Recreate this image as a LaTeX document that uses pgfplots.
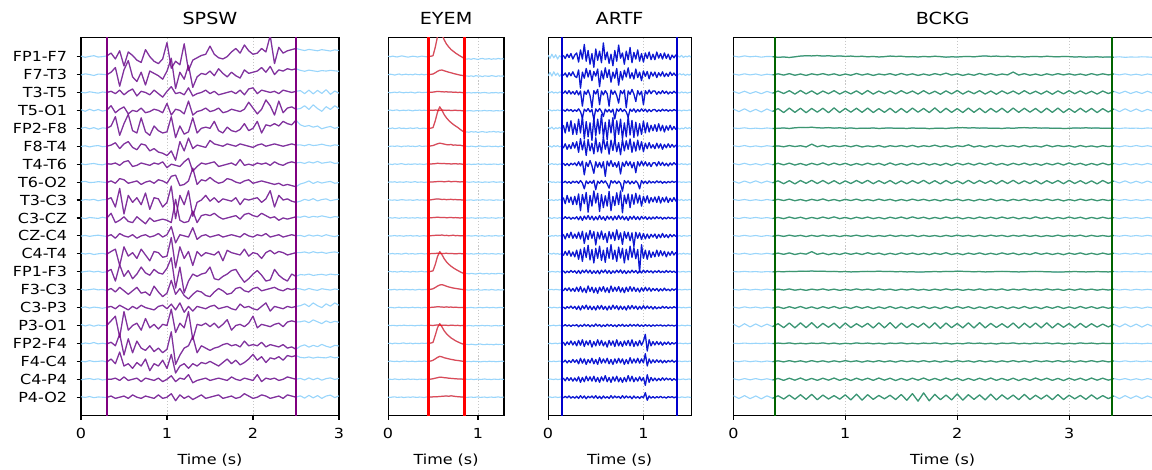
\documentclass[border=0pt]{standalone}
\usepackage{fontspec}
\setmainfont{DejaVu Sans}[FakeStretch=1.15]
\usepackage{pgfplots}
\usepackage{pgfplotstable}
\pgfplotsset{compat=1.18}

\definecolor{bgblue}{HTML}{87CEFA}
\definecolor{spswc}{HTML}{800080}
\definecolor{eyemc}{HTML}{FF0000}
\definecolor{artfc}{HTML}{0000CD}
\definecolor{bckgc}{HTML}{2E8B57}
\definecolor{bckgw}{HTML}{006400}
\newcommand\ticksize{\fontsize{10}{12}\selectfont}
\newcommand\titlesize{\fontsize{12}{14}\selectfont}

% channel rows, values in 1/100 of the channel spacing (positive = up)
\pgfplotstableread[header=true]{
ch 0 0.05 0.1 0.15 0.2 0.25 0.3 0.35 0.4 0.45 0.5 0.55 0.6 0.65 0.7 0.75 0.8 0.85 0.9 0.95 1 1.05 1.1 1.15 1.2 1.25 1.3 1.35 1.4 1.45 1.5 1.55 1.6 1.65 1.7 1.75 1.8 1.85 1.9 1.95 2 2.05 2.1 2.15 2.2 2.25 2.3 2.35 2.4 2.45 2.5 2.55 2.6 2.65 2.7 2.75 2.8 2.85 2.9 2.95 3
c1 2 -3 1 4 -2 0 3 15 -10 25 -40 20 5 -15 -25 30 0 -20 -30 -10 60 -50 -20 -35 55 -60 -15 -5 5 10 45 10 -5 -10 0 20 35 15 50 25 10 15 35 20 90 -30 40 15 25 30 35 30 26 31 28 25 30 27 24 29 26
c2 -2 3 0 -4 2 1 -1 10 30 -50 20 60 -10 -30 10 -45 15 5 -5 -20 15 70 -60 10 -20 40 -55 -10 5 0 15 -5 25 5 -10 10 -5 -15 20 5 10 15 30 10 35 0 20 15 25 20 25 18 14 19 16 13 17 15 18 16 14
c3 1 -2 3 0 -3 2 0 5 -5 10 -10 5 15 -15 5 0 -10 10 -5 -20 5 25 -5 0 -10 20 -15 -5 0 10 -5 5 -10 -5 0 5 -5 10 -10 15 20 -5 10 5 0 5 -5 10 5 0 5 8 -5 10 -6 9 -4 12 -8 6 -3
c4 3 -4 5 -2 4 -3 1 20 -10 5 15 -15 0 -5 10 -10 -5 5 0 -10 30 -20 5 0 -15 40 -20 -5 0 10 -5 0 10 -10 -5 5 0 -5 5 35 10 -15 5 45 20 -20 40 -10 10 15 5 8 20 4 24 8 -4 16 4 20 8
c5 0 4 -2 3 -4 2 0 10 50 -30 20 60 -10 -20 45 -15 -30 10 -10 -20 -15 50 -40 10 -25 -15 45 -20 0 5 0 30 -10 -20 5 -10 -15 -5 20 -10 0 30 -20 15 10 20 10 30 20 15 35 15 8 12 5 10 -2 4 8 0 5
c6 -1 2 -3 1 3 -2 0 5 15 -10 10 20 -5 -15 10 5 -20 -10 -25 -30 -40 -20 -60 20 -20 35 -10 5 0 -5 25 10 5 0 10 5 0 10 5 0 -5 5 10 0 5 10 5 0 5 10 5 6 2 8 3 5 9 4 1 6 3
c7 2 -2 1 3 -1 -3 2 0 5 -5 10 15 -10 -5 5 0 -5 5 0 10 -15 0 -5 -10 10 25 -30 -10 5 0 5 10 -10 -5 0 5 -5 20 -5 0 -5 5 0 5 -5 10 0 -5 5 10 5 8 3 10 5 12 4 7 10 3 6
c8 1 3 -2 -1 2 0 -2 5 -5 15 10 -5 0 5 -10 0 5 -5 10 5 -5 25 30 -15 -10 5 60 -10 10 5 20 5 -5 0 15 10 0 -5 5 10 -5 0 5 0 -5 -10 -5 -15 -10 -15 -20 -8 -3 5 -6 2 -4 0 3 -5 -2
c9 -2 2 0 3 -3 1 2 10 -30 50 -60 20 -10 10 -20 30 -40 10 5 -30 -10 60 -80 20 -20 40 -70 -10 0 20 -5 10 -10 5 0 -5 10 -20 5 0 5 10 -10 5 40 -30 20 0 5 -5 -10 -5 3 -2 6 -4 2 5 -3 1 4
c10 1 -3 2 0 -2 3 -1 20 -20 -10 5 -15 -20 5 -10 -25 0 -15 -10 -5 -10 -20 80 -10 -20 -15 30 -20 10 15 10 20 5 -5 0 5 10 -5 15 20 10 5 20 10 0 5 -10 0 -5 0 5 3 8 2 7 4 9 5 1 6 3
c11 -1 2 -2 1 3 0 -2 5 -10 10 0 -5 5 -10 0 5 -5 0 10 -5 5 40 -30 5 0 -5 35 -15 0 5 -5 0 5 -5 0 5 0 -5 10 0 -5 5 0 10 -5 0 5 -5 0 5 0 2 -3 4 -1 3 -2 5 0 -3 2
c12 3 -1 2 -3 0 2 -2 10 20 -50 30 -10 5 -20 20 -5 -30 10 5 -15 -10 70 -60 30 -20 10 -50 10 -10 5 0 -5 10 -30 15 5 0 -5 20 -10 5 0 -20 5 15 0 10 5 -5 0 5 5 8 3 9 4 7 2 6 8 4
c13 -2 1 3 -1 2 -3 0 10 -40 30 -20 5 -30 -10 20 -5 -15 10 -5 -10 15 60 -70 20 -90 -40 -10 -20 -10 -5 20 -30 -35 -20 -10 5 10 -20 -45 -30 -10 5 -15 -40 -35 10 -15 -30 -40 -10 -20 -12 -14 -10 -16 -13 -11 -15 -10 -13 -12
c14 2 -2 0 3 -1 1 -3 5 -10 10 -5 -20 -5 10 -15 -10 -25 15 -10 -30 -15 40 -20 5 -25 -40 -20 -5 -10 -25 -30 -10 5 -5 -20 -15 5 10 -5 -10 5 10 -5 0 5 10 0 -5 5 0 5 3 -2 5 0 -3 4 1 -2 3 0
c15 -1 3 -2 2 0 -3 1 5 -5 10 0 -10 5 -5 10 0 -5 -10 5 10 -5 15 -10 20 -20 5 -15 5 0 -5 5 10 -5 0 5 -5 -10 15 0 5 -5 -10 5 20 -15 5 0 -5 5 0 5 8 16 4 20 8 0 16 6 20 10
c16 4 -2 3 -3 2 -1 0 20 40 -50 60 -20 0 10 -20 30 -10 5 -15 5 0 70 -30 10 -10 60 -60 5 0 10 -5 10 -10 5 25 -20 0 5 -5 10 40 -10 5 0 -5 5 10 -5 15 20 15 16 20 12 24 16 8 20 12 18 14
c17 -3 2 -1 4 -2 1 -2 5 -10 40 -50 20 -40 10 -20 -30 -10 -35 -20 -40 -25 50 -90 -50 -20 -10 30 -40 -10 -20 -30 -20 -15 -5 0 -10 -5 -15 10 -10 -5 -10 5 -15 -5 -10 -15 -5 -20 -15 -25 -12 -6 -16 -8 -14 -4 -12 -17 -8 -11
c18 1 -2 3 -1 0 2 -3 10 -10 40 -20 -10 -30 -5 -20 10 -40 -10 -20 5 -30 30 -50 -20 -10 -30 -10 -20 -5 -10 0 -10 -20 -5 10 -10 5 -15 -5 10 30 5 20 -5 15 10 20 5 25 20 25 17 15 19 14 18 16 15 20 15 18
c19 -2 1 3 -1 2 -3 0 0 5 -5 10 -5 0 5 -10 5 0 -5 5 -10 0 15 -10 5 0 20 -15 -5 0 5 -5 0 5 0 -5 10 0 -5 5 0 -5 20 -10 5 0 5 -5 0 10 5 0 4 -3 6 -2 5 -4 3 6 -1 4
c20 2 -1 3 -2 1 0 -1 5 -5 0 5 -5 10 0 -5 5 0 -5 10 -5 0 15 -15 10 -5 5 -10 0 10 -5 0 5 10 -5 0 5 -5 0 15 5 -5 0 10 5 -5 0 5 -5 10 5 0 6 -4 8 -3 7 -5 5 9 -2 6
}\spswraw
\pgfplotstabletranspose[colnames from=ch, input colnames to=t]\spsw{\spswraw}

\pgfplotstableread[header=true]{
ch 0 0.025 0.05 0.075 0.1 0.125 0.15 0.175 0.2 0.225 0.25 0.275 0.3 0.325 0.35 0.375 0.4 0.425 0.45 0.475 0.5 0.525 0.55 0.575 0.6 0.625 0.65 0.675 0.7 0.725 0.75 0.775 0.8 0.825 0.85 0.875 0.9 0.925 0.95 0.975 1 1.025 1.05 1.075 1.1 1.125 1.15 1.175 1.2 1.225 1.25 1.275 1.3
c1 2 -1 3 0 -2 1 4 2 -1 -3 0 2 1 -2 0 3 1 -1 0 2 5 52 112 150 123 93 70 54 40 30 20 12 4 -3 -12 -14 -12 -15 -11 -13 -16 -12 -10 -14 -13 -11 -15 -12 -14 -10 -13 -12 -14
c2 -1 2 0 -3 1 3 -2 0 2 -1 1 -2 3 0 -1 2 -2 1 0 1 3 10 18 24 25 21 17 13 10 6 3 0 -3 -5 -7 -8 -10 -7 -11 -6 -9 -8 -12 -7 -9 -10 -6 -8 -11 -7 -9 -8 -10
c3 1 -2 0 2 -1 3 0 -2 1 -1 2 0 -3 1 2 -1 0 1 0 1 2 4 6 5 4 3 4 2 3 1 2 0 1 -1 0 -2 0 -3 -1 -2 1 -3 -1 0 -2 -4 -1 -2 0 -3 -1 -2 0
c4 0 2 -1 1 3 -2 0 1 -1 2 0 -3 1 0 2 -1 1 0 0 1 0 2 1 0 2 1 0 1 -1 0 1 -1 0 -2 -1 -3 -1 -2 -4 -2 -1 -3 -2 0 -3 -1 -2 -4 -1 -2 -3 0 -2
c5 1 -1 2 -2 0 3 -1 1 -2 0 2 -1 1 3 -2 0 1 -1 0 1 4 42 90 120 100 76 58 44 32 22 13 5 -5 -14 -22 -20 -22 -18 -21 -19 -23 -20 -18 -21 -22 -19 -20 -17 -21 -19 -22 -20 -18
c6 -2 0 1 -1 2 0 -3 1 0 2 -1 1 -2 0 3 -1 0 1 0 2 4 9 14 17 15 12 9 8 10 6 7 5 6 3 2 0 -2 1 -1 -3 0 2 -1 -2 0 1 -2 -1 0 -3 1 -1 0
c7 1 0 -2 2 -1 1 3 0 -2 1 -1 0 2 -1 1 0 -2 1 0 1 2 3 5 4 3 4 2 3 1 2 3 1 2 0 1 -1 1 -2 0 -1 2 -1 0 1 -2 0 -1 1 0 -2 1 -1 0
c8 -1 1 0 2 -2 1 0 -1 2 1 -1 0 3 -1 0 1 -2 0 0 1 1 2 3 4 3 2 3 5 2 3 4 2 1 2 0 1 -1 0 2 -1 1 0 -2 1 0 -1 1 2 -1 0 1 -1 0
c9 2 0 -1 1 -2 0 2 1 -1 0 1 -2 0 2 -1 1 0 -1 0 1 3 5 6 5 3 4 2 3 4 2 3 1 2 0 1 -1 0 1 -2 0 1 -1 2 0 -1 1 0 -2 1 0 -1 1 0
c10 0 1 -1 2 0 -2 1 0 2 -1 0 1 -1 2 0 -1 1 0 0 1 2 3 4 3 2 3 1 2 3 1 2 1 0 1 0 0 -1 1 0 -2 1 0 -1 2 0 -1 1 0 -2 1 0 1 -1
c11 1 -1 0 2 -1 1 0 -2 1 0 2 -1 0 1 -2 0 1 -1 0 1 2 3 4 3 5 2 3 1 2 4 1 2 0 1 0 0 1 -1 0 2 -1 0 1 -2 0 1 -1 0 2 -1 0 1 0
c12 -1 0 2 -1 1 0 -2 1 3 -1 0 1 -2 0 1 2 -1 0 0 1 1 2 3 2 1 2 3 1 2 1 0 1 2 0 1 0 -1 1 -2 0 1 0 -1 2 0 -1 1 0 -2 1 -1 0 1
c13 0 2 -1 1 -2 0 3 -1 1 0 -2 2 0 -1 1 3 -1 0 0 2 5 40 85 112 95 72 55 42 31 22 14 7 0 -6 -11 -10 -12 -9 -11 -13 -10 -8 -12 -11 -9 -13 -10 -11 -12 -9 -10 -12 -11
c14 1 -1 0 2 -2 1 0 -1 2 0 -1 1 -2 0 2 -1 0 1 0 2 5 12 20 26 28 24 19 15 12 9 7 5 3 1 0 -1 -3 0 -2 -1 1 -3 -2 0 -1 -2 1 -1 -3 0 -2 -1 0
c15 -1 1 0 -2 1 2 -1 0 1 -1 0 2 -1 1 0 -2 1 0 0 1 2 3 5 4 3 2 4 2 3 1 2 1 0 1 0 -1 0 1 -1 -2 0 1 -1 0 2 -1 0 1 -2 0 1 -1 0
c16 2 -1 1 0 -2 1 -1 2 0 -1 1 0 -2 1 0 2 -1 0 0 1 0 2 3 2 1 2 1 0 2 1 0 1 -1 0 -1 -2 0 -1 -3 0 -2 -1 1 -2 0 -1 -3 -1 0 -2 -1 0 -1
c17 0 1 -2 2 0 -1 1 3 -1 0 2 -2 1 0 -1 2 0 1 0 2 6 45 88 110 92 70 54 42 31 23 15 9 3 -2 -6 -5 -7 -4 -6 -8 -5 -3 -6 -7 -4 -6 -5 -8 -4 -6 -5 -7 -5
c18 -1 2 0 -1 1 -2 0 2 1 -1 0 1 -2 0 1 -1 2 0 0 2 6 14 22 28 25 20 17 14 11 9 6 5 3 1 0 -1 0 -2 1 -1 0 -3 -1 0 -2 1 -1 0 -2 -1 0 1 -1
c19 1 0 -1 2 0 -2 1 -1 0 2 -1 1 0 -2 1 0 -1 1 0 1 3 6 9 12 11 9 8 6 5 4 3 2 2 1 0 0 -1 1 -2 0 1 -1 0 2 -1 0 -2 1 0 -1 1 0 -1
c20 0 -1 1 2 -1 0 1 -2 0 1 -1 2 0 -1 1 0 -2 1 0 1 2 2 3 4 5 6 7 5 8 6 4 3 2 1 0 -1 0 1 -1 0 2 -1 0 1 -2 0 1 -1 0 2 -1 0 1
}\eyemraw
\pgfplotstabletranspose[colnames from=ch, input colnames to=t]\eyem{\eyemraw}

\pgfplotstableread[header=true]{
ch 0 0.02 0.04 0.06 0.08 0.1 0.12 0.14 0.16 0.18 0.2 0.22 0.24 0.26 0.28 0.3 0.32 0.34 0.36 0.38 0.4 0.42 0.44 0.46 0.48 0.5 0.52 0.54 0.56 0.58 0.6 0.62 0.64 0.66 0.68 0.7 0.72 0.74 0.76 0.78 0.8 0.82 0.84 0.86 0.88 0.9 0.92 0.94 0.96 0.98 1 1.02 1.04 1.06 1.08 1.1 1.12 1.14 1.16 1.18 1.2 1.22 1.24 1.26 1.28 1.3 1.32 1.34 1.36 1.38 1.4 1.42 1.44 1.46 1.48 1.5
c1 5 -6 8 -4 6 -8 3 -2 4 -6 8 -3 10 -8 5 12 -18 22 -8 40 -15 20 -25 10 -35 25 -12 18 -20 45 -10 15 -22 8 -30 20 -15 38 -5 12 -25 18 -10 30 -20 14 -8 22 -15 10 -18 12 -6 15 -10 8 -10 15 -5 10 -8 12 -6 8 -10 5 -4 6 3 -2 4 -3 2 -1 3 -2
c2 -4 7 -5 9 -3 5 -6 2 -3 5 -8 6 -4 9 -5 -10 15 -45 8 -12 20 -8 14 -20 10 -5 18 -40 12 -15 22 -10 16 -25 8 -12 20 -35 10 -18 14 -8 22 -12 6 -15 18 -10 8 -20 12 -6 10 -14 8 -5 8 -10 6 -5 9 -7 4 -6 8 -3 5 -4 -2 3 -1 2 -3 1 -2 2
c3 2 -1 3 -2 1 -2 2 0 -3 5 -4 6 -5 3 -6 6 -8 5 -45 4 -6 8 -10 -50 6 -5 10 -40 5 -8 6 -4 -45 8 -6 5 -10 -35 6 -4 8 -50 5 -6 10 -5 -30 6 -8 4 -40 6 -5 8 -4 5 5 -6 3 -4 6 -3 4 -5 2 -3 4 -2 1 -2 2 -1 1 -2 0 1
c4 -1 2 -2 1 -1 2 -1 1 2 -3 4 -2 3 -4 2 -3 5 -4 -25 4 -3 6 -5 3 -30 5 -4 6 -3 -20 4 -5 3 -6 4 -28 5 -3 6 -4 3 -5 -22 4 -3 5 -6 3 -4 5 -3 4 -5 3 -4 2 3 -4 2 -3 4 -2 3 -3 2 -2 3 -1 -1 1 -2 1 0 -1 2 -1
c5 3 -2 4 -3 2 -1 3 -2 10 -15 20 -10 25 -20 15 -20 30 -15 40 -35 22 -28 18 -40 35 -25 30 -18 45 -30 20 -38 28 -15 35 -42 25 -20 30 -35 18 -28 40 -22 26 -30 20 -25 15 -20 24 -15 18 -12 10 -8 12 -10 15 -8 10 -12 8 -6 10 -5 6 -4 2 -3 1 -2 3 -1 2 -1
c6 -2 1 -3 2 -1 2 -2 1 -6 8 -10 5 -8 12 -6 15 -20 25 -12 18 -30 22 -15 10 -25 28 -18 12 -22 30 -10 16 -26 20 -14 25 -18 12 -28 22 -15 18 -10 24 -20 14 -16 20 -12 15 -18 10 -8 12 -6 5 -8 10 -6 8 -10 6 -5 8 -4 6 -3 4 -1 2 -2 1 -1 2 -1 0
c7 1 -1 2 -1 1 -2 1 -1 3 -4 2 -5 3 -2 4 -5 8 -6 10 -35 6 -8 12 -5 -30 8 -10 6 -12 8 -40 10 -6 12 -8 5 -10 8 -32 6 -8 10 -5 8 -12 6 -28 8 -6 10 -5 8 -6 5 -8 4 5 -6 8 -4 6 -5 3 -6 4 -3 5 -2 1 -1 2 -1 1 -2 1 0
c8 -1 2 -1 1 -2 1 -1 1 -2 3 -3 2 -4 3 -2 3 -4 5 -3 -22 4 -5 3 -4 6 -25 3 -4 5 -3 4 -6 -20 5 -3 4 -5 3 -4 -30 5 -3 4 -6 3 -5 4 -3 -22 5 -4 3 -5 4 -3 2 -3 4 -2 3 -4 2 -3 2 -2 3 -1 2 0 1 -1 1 -1 0 1 -1
c9 2 -1 1 -2 1 -1 2 -1 8 -12 15 -8 10 -15 12 -15 20 -35 18 -12 25 -40 15 -20 30 -10 22 -38 18 -25 14 -20 28 -35 12 -18 24 -15 30 -42 16 -12 20 -25 18 -14 22 -10 16 -20 12 -8 14 -10 8 -6 10 -8 12 -10 8 -6 10 -8 6 -5 8 -4 2 -1 2 -2 1 -1 2 -1
c10 -1 1 -2 1 0 -1 1 -1 -3 4 -2 3 -4 2 -3 4 -6 5 -8 6 -4 8 -5 6 -7 4 -6 8 -5 4 -8 6 -4 5 -7 6 -5 8 -4 6 -6 4 -8 5 -4 6 -5 4 -6 5 -3 4 -5 3 -4 3 -3 4 -2 3 -4 2 -3 3 -2 2 -3 1 1 -1 0 1 -1 1 0 -1
c11 1 -2 1 -1 2 -1 1 -1 5 -10 8 -6 12 -8 6 -8 12 -10 15 -25 10 -12 18 -8 14 -30 12 -10 16 -12 8 -22 14 -10 12 -15 20 -12 10 -28 14 -8 12 -16 10 -35 12 -8 10 -12 8 -10 6 -8 5 -4 6 -8 5 -6 8 -5 4 -6 5 -3 4 -2 -1 1 -2 1 0 -1 1 0
c12 -1 1 -1 2 -1 1 -2 1 -6 8 -5 10 -8 6 -10 12 -18 15 -25 20 -12 28 -20 14 -30 18 -15 25 -22 12 -28 20 -15 30 -18 12 -25 22 -14 18 -30 15 -20 25 -12 20 -16 14 -60 30 -15 12 -18 10 -12 6 -10 12 -8 10 -6 8 -10 6 -5 8 -4 5 -2 1 -1 2 -1 1 -1 0
c13 1 -1 1 0 -1 1 -1 0 3 -4 2 -3 4 -2 3 -5 4 -6 5 -3 6 -4 5 -6 3 -5 4 -7 5 -3 6 -5 4 -6 3 -4 5 -3 6 -5 4 -6 3 -4 5 -3 4 -5 3 -4 5 -3 4 -2 3 -4 3 -2 4 -3 2 -3 4 -2 3 -2 2 -3 1 -1 0 1 -1 0 1 -1
c14 -1 0 1 -1 1 0 -1 1 -4 5 -3 6 -5 4 -6 8 -6 10 -8 5 -10 12 -6 8 -10 6 -12 8 -5 10 -8 6 -10 12 -6 8 -5 10 -8 6 -10 8 -6 10 -5 8 -6 5 -8 6 -5 8 -4 6 -5 4 -3 4 -5 3 -4 5 -3 2 -4 3 -2 3 -1 1 -1 0 1 -1 1 0
c15 0 1 -1 1 0 -1 1 -1 2 -4 3 -2 5 -3 4 -6 5 -8 6 -4 8 -6 5 -7 4 -8 6 -5 7 -6 4 -8 5 -6 8 -4 6 -7 5 -6 4 -8 6 -5 7 -4 5 -6 4 -5 6 -4 5 -3 4 -5 3 -4 2 -3 4 -2 3 -3 2 -2 3 -1 0 1 -1 1 -1 0 1 0
c16 1 -1 0 1 -1 0 1 -1 -2 3 -2 2 -3 2 -1 3 -4 2 -3 4 -2 3 -4 2 -3 5 -2 3 -4 2 -3 4 -2 3 -3 2 -4 3 -2 4 -3 2 -3 4 -2 3 -2 4 -3 2 -3 3 -2 2 -3 2 -2 2 -1 2 -2 1 -2 2 -1 1 -2 1 0 -1 1 0 -1 1 0 -1
c17 -1 1 -1 0 1 -1 1 0 4 -6 5 -4 8 -5 6 -8 10 -6 12 -10 8 -5 10 -12 6 -8 12 -6 10 -8 5 -12 10 -6 8 -10 12 -8 6 -10 8 -6 10 -8 12 -10 6 -8 10 -6 8 30 -25 12 -8 6 -5 6 -4 5 -6 4 -3 5 -4 3 -2 3 -1 1 0 -1 1 -1 0 1
c18 1 0 -1 1 -1 0 1 -1 -3 4 -5 3 -4 6 -3 5 -8 10 -6 8 -10 6 -5 10 -8 6 -10 12 -6 8 -5 10 -8 6 -10 8 -6 10 -5 8 -10 6 -8 12 -6 8 -5 10 -6 8 -5 25 -15 8 -6 5 -4 5 -3 4 -5 3 -4 3 -2 4 -3 2 0 1 -1 0 1 -1 1 0
c19 -1 1 0 -1 1 -1 0 1 4 -5 6 -4 5 -6 4 -6 8 -10 6 -8 10 -5 8 -6 10 -8 6 -10 8 -5 12 -8 6 -10 8 -6 10 -8 5 -10 6 -8 12 -6 10 -8 5 -6 8 -5 6 -20 15 -10 6 -5 4 -5 3 -4 5 -3 4 -2 3 -4 2 -3 1 -1 0 1 -1 0 1 -1
c20 0 1 -1 0 1 -1 0 1 -2 3 -2 4 -3 2 -3 3 -4 5 -3 4 -5 3 -2 4 -3 5 -4 3 -5 4 -3 2 -4 5 -3 4 -2 3 -4 5 -3 4 -2 3 -5 4 -3 2 -4 3 -2 15 -10 4 -3 2 -3 2 -2 3 -2 1 -3 2 -1 2 -2 1 0 -1 1 0 -1 1 0 -1
}\artfraw
\pgfplotstabletranspose[colnames from=ch, input colnames to=t]\artf{\artfraw}

\pgfplotstableread[header=true]{
ch 0 0.05 0.1 0.15 0.2 0.25 0.3 0.35 0.4 0.45 0.5 0.55 0.6 0.65 0.7 0.75 0.8 0.85 0.9 0.95 1 1.05 1.1 1.15 1.2 1.25 1.3 1.35 1.4 1.45 1.5 1.55 1.6 1.65 1.7 1.75 1.8 1.85 1.9 1.95 2 2.05 2.1 2.15 2.2 2.25 2.3 2.35 2.4 2.45 2.5 2.55 2.6 2.65 2.7 2.75 2.8 2.85 2.9 2.95 3 3.05 3.1 3.15 3.2 3.25 3.3 3.35 3.4 3.45 3.5 3.55 3.6 3.65 3.7 3.75
c1 3 -2 4 -1 2 -3 1 0 -4 -2 -5 -1 3 5 4 6 3 5 2 4 1 3 0 2 -1 1 -2 0 3 1 2 -1 0 -2 1 -1 2 0 -3 -1 -2 0 1 -1 2 4 1 3 0 2 -1 1 -2 0 1 -1 2 0 -1 1 0 -2 -1 -3 -2 -1 -3 -2 -3 -1 -4 -2 -3 -1 -2 -4
c2 3 -3 4 -2 3 -4 2 -2 4 -3 5 -4 3 -5 4 -2 5 -3 4 -5 3 -4 6 -3 4 -5 3 -2 5 -4 6 -3 4 -5 3 -4 5 -2 8 -3 4 -5 3 -4 6 -3 5 -4 3 -2 14 -3 5 -4 3 -5 4 -3 5 -2 4 -3 3 -4 5 -3 4 -2 3 -2 4 -3 2 -4 3 -2
c3 6 -5 7 -6 5 -7 6 -4 8 -6 10 -9 11 -8 9 -10 8 -7 10 -9 7 -8 9 -10 11 -9 8 -7 9 -8 10 -6 8 -9 10 -8 7 -10 9 -8 11 -9 8 -7 10 -9 8 -10 9 -7 8 -9 10 -8 7 -9 8 -10 9 -8 10 -7 9 -8 7 -9 8 -6 6 -5 7 -6 5 -6 7 -5
c4 8 -7 9 -8 6 -9 8 -6 10 -12 13 -11 12 -13 11 -10 12 -13 14 -12 11 -10 12 -11 13 -12 10 -11 12 -13 11 -12 13 -10 11 -12 14 -13 12 -11 10 -12 13 -11 12 -13 11 -10 12 -12 13 -11 12 -10 11 -13 12 -11 13 -12 10 -11 12 -10 11 -12 10 -9 8 -7 9 -6 8 -7 6 -5
c5 2 -1 3 -2 1 -2 2 -1 0 2 -1 3 5 4 6 3 2 4 1 3 0 2 -1 1 0 2 -1 1 2 0 1 -1 2 0 1 -2 0 1 -1 2 3 4 2 3 1 2 0 1 -1 2 0 3 4 2 3 1 2 0 1 -1 0 2 1 3 1 2 0 1 1 -1 2 0 1 -1 2 0
c6 3 -2 4 -3 2 -3 3 -1 2 -3 4 -2 3 -4 12 -3 5 -4 3 -2 4 -3 5 -4 2 -3 4 -5 3 -2 4 -3 5 -4 3 -2 6 -3 4 -5 3 -2 8 -4 3 -5 4 -3 5 -2 3 -4 5 -3 2 -4 6 -3 4 -2 3 -5 4 -3 2 -4 3 -2 2 -3 3 -2 4 -2 3 -3
c7 4 -3 5 -4 3 -5 4 -3 5 -4 6 -5 4 -6 5 -4 7 -5 6 -4 5 -6 4 -5 6 -4 5 -6 7 -5 4 -6 5 -4 6 -5 4 -6 5 -7 6 -4 5 -5 6 -4 7 -5 4 -6 5 -4 6 -5 4 -6 5 -4 6 -5 7 -4 5 -6 4 -5 6 -4 4 -3 5 -4 3 -4 4 -3
c8 5 -6 6 -5 7 -5 6 -4 7 -9 8 -10 9 -7 10 -8 9 -9 8 -10 7 -8 9 -7 10 -9 8 -8 9 -10 7 -9 8 -7 10 -9 8 -10 9 -8 7 -9 10 -8 9 -7 8 -10 9 -8 10 -9 7 -8 9 -10 8 -7 9 -9 10 -8 8 -9 7 -10 9 -7 6 -5 7 -6 5 -6 6 -5
c9 3 -2 3 -3 2 -3 3 -2 4 -3 5 -4 3 -5 4 -3 6 -4 3 -5 4 -3 5 -4 3 -4 5 -3 4 -5 3 -4 5 -3 4 -4 3 -5 4 -3 5 -4 3 -5 4 -3 6 -4 3 -5 4 -3 5 -4 3 -4 5 -3 4 -5 3 -4 5 -3 4 -4 3 -3 3 -2 3 -3 2 -3 2 -2
c10 2 -3 3 -2 3 -2 2 -3 3 -4 5 -3 4 -5 3 -4 5 -3 6 -4 3 -5 4 -3 5 -4 3 -5 4 -3 5 -4 6 -3 4 -5 3 -4 5 -3 4 -5 3 -4 5 -3 4 -4 5 -3 4 -5 3 -4 6 -3 4 -5 3 -4 5 -3 4 -5 3 -4 4 -3 2 -3 3 -2 2 -3 3 -2
c11 2 -2 3 -2 2 -3 2 -2 3 -3 4 -2 3 -4 3 -3 4 -2 3 -4 3 -2 4 -3 3 -4 2 -3 4 -3 3 -2 4 -4 3 -3 2 -4 3 -3 4 -2 3 -4 3 -3 4 -2 3 -4 3 -2 4 -3 3 -4 2 -3 4 -3 3 -2 4 -4 3 -3 2 -3 2 -2 3 -2 2 -2 3 -2
c12 3 -2 3 -3 2 -2 3 -2 4 -3 5 -4 3 -2 12 -3 4 -5 3 -4 5 -3 4 -4 6 -3 4 -5 3 -4 5 -3 4 -4 3 -5 4 -3 6 -4 3 -5 4 -3 5 -4 3 -4 5 -3 4 -5 3 -4 6 -3 4 -4 3 -5 4 -3 5 -4 3 -4 4 -3 3 -2 3 -2 3 -3 2 -2
c13 1 -1 2 -1 1 -2 1 -1 1 0 2 1 3 2 4 2 3 1 2 0 1 -1 0 1 2 1 3 1 2 0 1 -1 0 -2 -1 0 1 0 2 1 3 2 1 0 1 -1 0 1 2 1 0 -1 0 1 2 1 0 -1 -2 -1 0 1 0 -1 0 1 0 -1 1 -1 1 0 -1 1 -1 0
c14 2 -2 3 -2 2 -2 3 -2 3 -2 4 -3 2 -4 3 -2 4 -3 3 -4 2 -3 4 -2 3 -3 4 -2 3 -4 3 -2 4 -3 2 -4 3 -3 4 -2 3 -4 2 -3 4 -3 3 -2 4 -4 3 -2 4 -3 2 -3 4 -2 3 -4 3 -3 4 -2 3 -3 2 -2 2 -2 2 -3 2 -2 2 -2
c15 3 -3 4 -2 3 -3 2 -3 4 -5 5 -4 6 -5 4 -6 5 -4 6 -5 4 -5 6 -4 5 -6 4 -5 6 -5 4 -6 5 -4 6 -5 4 -6 5 -5 6 -4 5 -6 4 -5 6 -4 5 -6 4 -5 6 -5 4 -6 5 -4 6 -5 4 -5 6 -4 5 -5 4 -4 3 -3 4 -3 3 -4 3 -2
c16 8 -9 10 -8 9 -7 8 -6 10 -12 14 -13 15 -12 16 -14 12 -10 13 -15 14 -12 10 -9 12 -14 15 -13 16 -15 14 -12 11 -10 13 -14 15 -16 14 -12 11 -13 15 -14 16 -13 12 -11 10 -12 14 -15 13 -12 14 -13 15 -14 12 -10 11 -13 12 -11 10 -9 8 -8 7 -8 9 -7 8 -9 7 -6
c17 1 -1 2 -1 1 -1 2 -1 2 -1 3 -2 1 -2 2 -1 3 -2 2 -3 1 -2 3 -1 2 -2 1 -3 2 -1 3 -2 1 -2 2 -1 3 -2 2 -3 1 -2 3 -1 2 -2 1 -3 2 -1 3 -2 1 -2 2 -1 3 -2 2 -3 1 -2 3 -1 2 -2 1 -1 1 -1 2 -1 1 -2 1 -1
c18 2 -2 3 -2 2 -3 2 -2 3 -3 4 -3 3 -4 4 -3 3 -4 3 -3 4 -2 3 -4 3 -3 4 -3 3 -4 4 -2 3 -3 4 -3 3 -4 3 -3 4 -2 3 -4 4 -3 3 -4 3 -3 4 -3 3 -4 4 -2 3 -3 4 -3 3 -4 3 -3 4 -3 3 -3 2 -2 3 -2 2 -2 2 -2
c19 3 -4 4 -3 4 -3 3 -4 5 -6 6 -5 7 -6 5 -6 6 -5 7 -6 5 -7 6 -5 6 -6 7 -5 6 -7 5 -6 6 -5 7 -6 5 -6 7 -5 6 -7 5 -6 6 -5 7 -6 5 -6 6 -7 5 -6 7 -5 6 -6 5 -7 6 -5 6 -6 7 -5 6 -5 4 -3 4 -4 3 -4 4 -3
c20 8 -7 9 -8 7 -9 8 -6 8 -10 12 -11 14 -12 16 -14 12 -10 9 -11 13 -15 17 -16 14 -12 10 -9 11 -13 15 -17 20 -22 24 -20 16 -14 12 -15 18 -16 14 -12 13 -15 17 -15 13 -11 12 -14 16 -13 11 -10 12 -14 15 -13 11 -9 10 -12 13 -10 9 -8 7 -8 9 -7 8 -8 7 -6
}\bckgraw
\pgfplotstabletranspose[colnames from=ch, input colnames to=t]\bckg{\bckgraw}

\pgfplotsset{
  eeg/.style={
    scale only axis, height=272.2pt, clip=true,
    y dir=reverse, ymin=-0.06, ymax=21.03,
    axis line style={black, line width=0.8pt},
    every tick/.style={black, line width=0.8pt},
    tick align=outside, major tick length=3.1pt, tick pos=left,
    xmajorgrids, grid style={black!22, line width=0.5pt, dash pattern=on 0.8pt off 1.4pt},
    ticklabel style={font=\ticksize},
    xticklabel style={yshift=-2.2pt},
    yticklabel style={xshift=-3.4pt},
    /pgf/number format/assume math mode=true,
    xlabel={Time (s)}, xlabel style={font=\ticksize, yshift=-4.5pt},
    title style={font=\titlesize},
  },
  bgline/.style={draw=bgblue, line width=0.8pt, draw opacity=0.85, line join=round},
  trace/.style={draw=#1, line width=0.9pt, line join=round},
}

\begin{document}
\begin{tikzpicture}
\useasboundingbox (0,0) rectangle (829.44pt,337.68pt);

% SPSW
\begin{axis}[eeg, at={(58.3pt,38.4pt)}, width=185.8pt,
  xmin=0, xmax=3, xtick={0,1,2,3}, title={SPSW},
  ytick={1,...,20},
  yticklabels={FP1-F7,F7-T3,T3-T5,T5-O1,FP2-F8,F8-T4,T4-T6,T6-O2,T3-C3,C3-CZ,CZ-C4,C4-T4,FP1-F3,F3-C3,C3-P3,P3-O1,FP2-F4,F4-C4,C4-P4,P4-O2}]
\pgfplotsinvokeforeach{1,...,20}{
  \addplot[bgline] table[x=t, y expr=#1-1.3*\thisrow{c#1}/100] {\spsw};
}
\pgfplotsinvokeforeach{1,...,20}{
  \addplot[trace=spswc, draw opacity=0.78, restrict x to domain=0.3:2.5] table[x=t, y expr=#1-1.3*\thisrow{c#1}/100] {\spsw};
}
\addplot[spswc, line width=1.6pt] coordinates {(0.3,-1) (0.3,22)};
\addplot[spswc, line width=1.6pt] coordinates {(2.5,-1) (2.5,22)};
\end{axis}

% EYEM
\begin{axis}[eeg, at={(279.4pt,38.4pt)}, width=83.5pt,
  xmin=0, xmax=1.29, xtick={0,1}, ytick=\empty, title={EYEM}]
\pgfplotsinvokeforeach{1,...,20}{
  \addplot[bgline] table[x=t, y expr=#1-\thisrow{c#1}/100] {\eyem};
}
\pgfplotsinvokeforeach{1,...,20}{
  \addplot[trace=eyemc, draw opacity=0.65, restrict x to domain=0.45:0.85] table[x=t, y expr=#1-\thisrow{c#1}/100] {\eyem};
}
\addplot[eyemc, line width=1.6pt] coordinates {(0.45,-1) (0.45,22)};
\addplot[eyemc, line width=1.6pt] coordinates {(0.85,-1) (0.85,22)};
\end{axis}

% ARTF
\begin{axis}[eeg, at={(394.6pt,38.4pt)}, width=103pt,
  xmin=0, xmax=1.5, xtick={0,1}, ytick=\empty, title={ARTF}]
\pgfplotsinvokeforeach{1,...,20}{
  \addplot[bgline] table[x=t, y expr=#1-1.7*\thisrow{c#1}/100] {\artf};
}
\pgfplotsinvokeforeach{1,...,20}{
  \addplot[trace=artfc, draw opacity=0.9, restrict x to domain=0.15:1.35] table[x=t, y expr=#1-1.7*\thisrow{c#1}/100] {\artf};
}
\addplot[artfc, line width=1.6pt] coordinates {(0.15,-1) (0.15,22)};
\addplot[artfc, line width=1.6pt] coordinates {(1.35,-1) (1.35,22)};
\end{axis}

% BCKG
\begin{axis}[eeg, at={(528pt,38.4pt)}, width=301.4pt,
  xmin=0, xmax=3.74, xtick={0,1,2,3}, ytick=\empty, title={BCKG},
  axis y line*=left]
\pgfplotsinvokeforeach{1,...,20}{
  \addplot[bgline] table[x=t, y expr=#1-\thisrow{c#1}/100] {\bckg};
}
\pgfplotsinvokeforeach{1,...,20}{
  \addplot[trace=bckgc, draw opacity=0.85, restrict x to domain=0.35:3.4] table[x=t, y expr=#1-\thisrow{c#1}/100] {\bckg};
}
\addplot[bckgw, line width=1.6pt] coordinates {(0.37,-1) (0.37,22)};
\addplot[bckgw, line width=1.6pt] coordinates {(3.38,-1) (3.38,22)};
\end{axis}
\end{tikzpicture}
\end{document}
